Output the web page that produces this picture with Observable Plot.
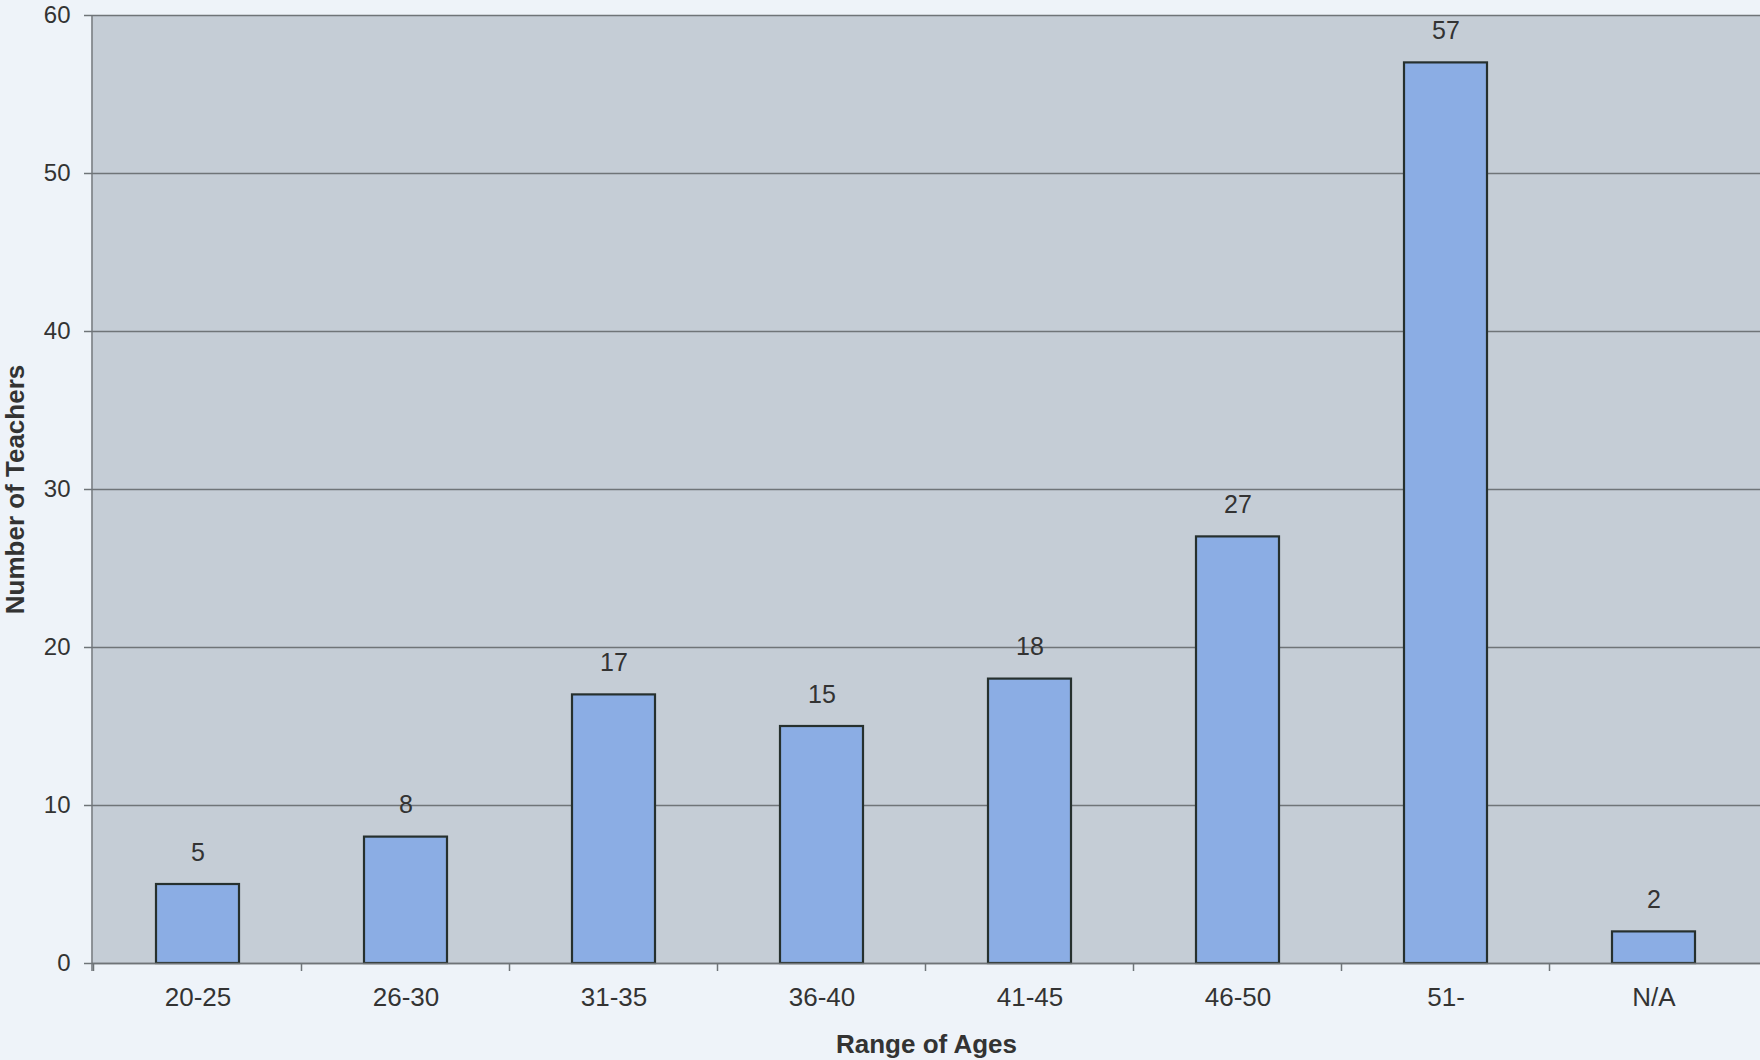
<!DOCTYPE html>
<html>
<head>
<meta charset="utf-8">
<script src="https://cdn.jsdelivr.net/npm/d3@7"></script>
<script src="https://cdn.jsdelivr.net/npm/@observablehq/plot@0.6"></script>
<style>
  html, body { margin: 0; padding: 0; background: #eef3f9; }
  #chart { width: 1760px; height: 1060px; }
  svg { display: block; }
</style>
</head>
<body>
<div id="chart"></div>
<script>
const categories = ["20-25", "26-30", "31-35", "36-40", "41-45", "46-50", "51-", "N/A"];
const teachers = [5, 8, 17, 15, 18, 27, 57, 2];
const yTicks = [0, 10, 20, 30, 40, 50, 60];
const xTitle = "Range of Ages";
const yTitle = "Number of Teachers";

const data = categories.map((c, i) => ({age: c, count: teachers[i]}));

// Excel-style tick marks on category boundaries
function boundaryTicks(index, scales, values, dimensions) {
  const x = scales.x;
  const bw = x.bandwidth ? x.bandwidth() : 0;
  const step = x(categories[1]) - x(categories[0]);
  const y0 = dimensions.height - dimensions.marginBottom;
  const g = d3.create("svg:g").attr("stroke", "#6f7478").attr("stroke-width", 1.5);
  categories.forEach(c => {
    const bx = x(c) + bw / 2 - step / 2;
    g.append("line").attr("x1", bx).attr("x2", bx).attr("y1", y0).attr("y2", y0 + 8);
  });
  // left axis line
  g.append("line")
    .attr("x1", dimensions.marginLeft).attr("x2", dimensions.marginLeft)
    .attr("y1", dimensions.marginTop).attr("y2", y0 + 8);
  return g.node();
}

const chart = Plot.plot({
  width: 1760,
  height: 1060,
  marginLeft: 92,
  marginRight: 0,
  marginTop: 15,
  marginBottom: 97,
  style: {fontFamily: "'Liberation Sans', Arial, sans-serif", fontSize: "24px", color: "#333", background: "transparent"},
  x: {domain: categories, paddingInner: 0.6, paddingOuter: 0.3, label: null},
  y: {domain: [0, 60], label: null},
  marks: [
    Plot.frame({fill: "#c5cdd6", stroke: "none"}),
    Plot.gridY(yTicks, {stroke: "#6f7478", strokeOpacity: 1, strokeWidth: 1.5}),
    Plot.axisY(yTicks, {tickSize: 8, tickPadding: 14, stroke: "#6f7478", strokeWidth: 1.5, fill: "#333", fontSize: 24, label: null}),
    Plot.axisX({tickSize: 0, tickPadding: 24, fill: "#333", fontSize: 26, label: null}),
    Plot.barY(data, {x: "age", y: "count", fill: "#8badE4", stroke: "#26302e", strokeWidth: 2.2}),
    Plot.ruleY([0], {stroke: "#6f7478", strokeWidth: 1.5}),
    Plot.text(data, {x: "age", y: "count", text: d => String(d.count), dy: -32, fill: "#333", fontSize: 25, lineAnchor: "middle"}),
    boundaryTicks,
    Plot.text([xTitle], {frameAnchor: "bottom", dy: 81, fontWeight: "bold", fontSize: 26, fill: "#333", lineAnchor: "middle"}),
    Plot.text([yTitle], {frameAnchor: "left", dx: -77, rotate: -90, textAnchor: "middle", fontWeight: "bold", fontSize: 26, fill: "#333", lineAnchor: "middle"})
  ]
});
document.getElementById("chart").appendChild(chart);
</script>
</body>
</html>
